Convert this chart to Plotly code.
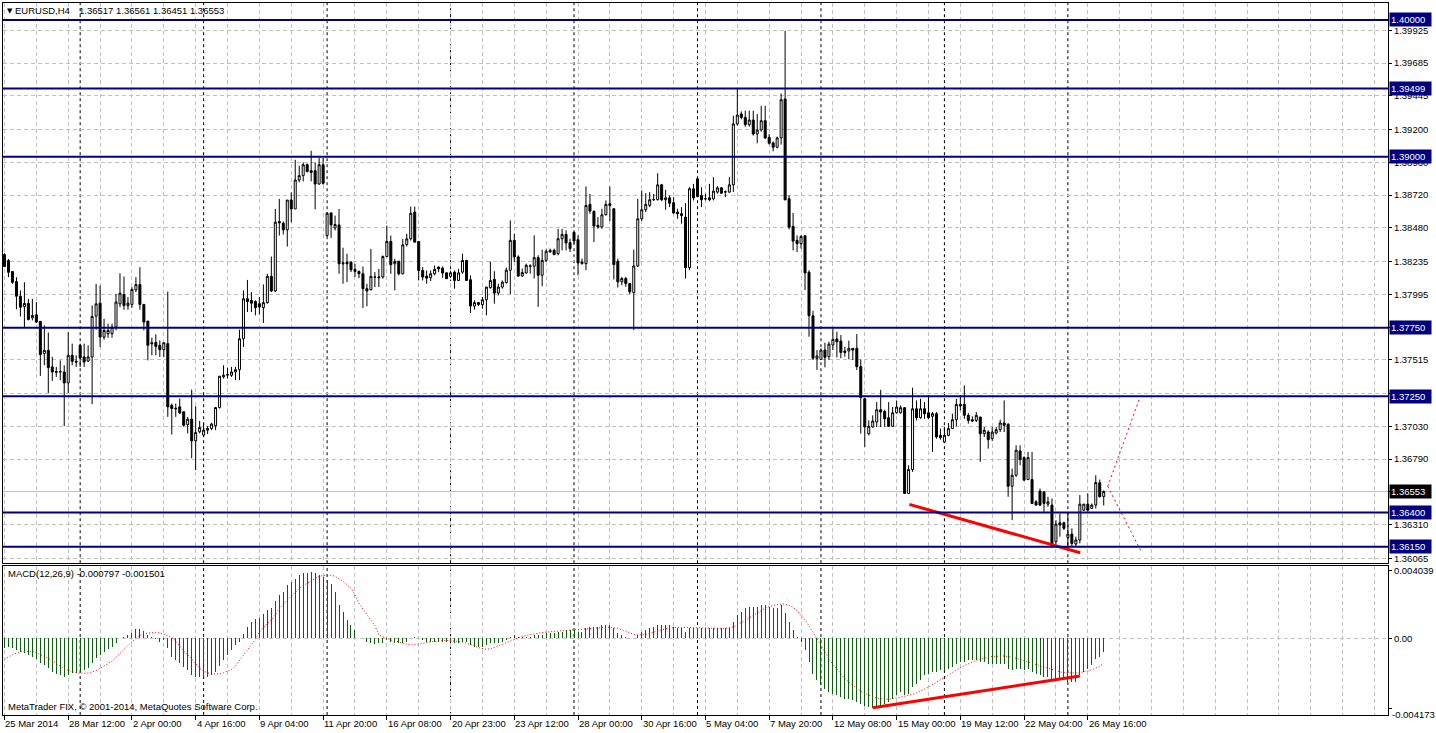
import plotly.graph_objects as go

# ---------------- DATA ----------------
opens = [
1.38285,1.38241,1.38161,1.38088,1.37981,1.37904,1.37928,1.37823,1.37845,1.37797,
1.37561,1.37585,1.37464,1.37430,1.37427,1.37427,1.37347,1.37549,1.37505,1.37622,
1.37537,1.37507,1.37537,1.37835,1.37930,1.37682,1.37707,1.37707,1.37755,1.37925,
1.37993,1.37911,1.37921,1.38027,1.38066,1.37921,1.37799,1.37641,1.37643,1.37622,
1.37590,1.37634,1.37184,1.37162,1.37172,1.37136,1.37043,1.37082,1.36924,1.36990,
1.36966,1.37002,1.37014,1.37034,1.37167,1.37391,1.37408,1.37403,1.37427,1.37444,
1.37670,1.37962,1.37950,1.37943,1.37926,1.37897,1.37934,1.38126,1.38019,1.38527,
1.38514,1.38466,1.38684,1.38619,1.38830,1.38862,1.38942,1.38898,1.38898,1.38801,
1.38942,1.38424,1.38590,1.38480,1.38502,1.38225,1.38230,1.38230,1.38177,1.38162,
1.38145,1.38036,1.38028,1.38121,1.38116,1.38121,1.38271,1.38381,1.38218,1.38237,
1.38145,1.38359,1.38400,1.38595,1.38381,1.38169,1.38128,1.38116,1.38145,1.38194,
1.38186,1.38152,1.38126,1.38157,1.38096,1.38157,1.38242,1.38101,1.37909,1.37934,
1.37919,1.37955,1.38043,1.38104,1.38004,1.38048,1.38081,1.38171,1.38389,1.38268,
1.38129,1.38151,1.38200,1.38200,1.38263,1.38134,1.38243,1.38304,1.38316,1.38292,
1.38401,1.38433,1.38372,1.38448,1.38394,1.38219,1.38219,1.38652,1.38601,1.38499,
1.38487,1.38576,1.38657,1.38620,1.38236,1.38086,1.38110,1.38073,1.38008,1.38202,
1.38547,1.38613,1.38645,1.38686,1.38686,1.38795,1.38686,1.38700,1.38664,1.38596,
1.38584,1.38559,1.38190,1.38766,1.38839,1.38717,1.38693,1.38700,1.38693,1.38742,
1.38773,1.38742,1.38742,1.38795,1.39240,1.39313,1.39288,1.39235,1.39269,1.39167,
1.39196,1.39264,1.39142,1.39101,1.39070,1.39138,1.39422,1.38693,1.38491,1.38389,
1.38365,1.38423,1.38156,1.37838,1.37527,1.37519,1.37587,1.37539,1.37624,1.37668,
1.37653,1.37580,1.37580,1.37600,1.37600,1.37466,1.37231,1.36976,1.37025,1.37061,
1.37151,1.37139,1.37093,1.37030,1.37129,1.37129,1.37166,1.36539,1.36714,1.37158,
1.37093,1.37158,1.37129,1.37103,1.37122,1.36964,1.36915,1.36964,1.37013,1.37078,
1.37190,1.37190,1.37110,1.37078,1.37073,1.37098,1.36976,1.36988,1.36940,1.36981,
1.37005,1.37054,1.37044,1.36592,1.36672,1.36850,1.36801,1.36641,1.36641,1.36478,
1.36556,1.36551,1.36461,1.36454,1.36187,1.36325,1.36325,1.36218,1.36242,1.36169,
1.36199,1.36417,1.36461,1.36429,1.36454,1.36617,1.36517]
highs = [
1.38295,1.38253,1.38161,1.38120,1.38023,1.38083,1.37962,1.37962,1.37938,1.37797,
1.37768,1.37716,1.37537,1.37464,1.37512,1.37476,1.37719,1.37634,1.37549,1.37634,
1.37634,1.37622,1.37913,1.38071,1.38059,1.37816,1.37780,1.37780,1.37998,1.38149,
1.38125,1.37974,1.38047,1.38120,1.38193,1.37921,1.37799,1.37678,1.37702,1.37658,
1.37641,1.38015,1.37196,1.37196,1.37233,1.37136,1.37099,1.37298,1.37177,1.37070,
1.37051,1.37031,1.37056,1.37172,1.37396,1.37476,1.37457,1.37464,1.37464,1.37736,
1.38023,1.38100,1.38011,1.37951,1.37975,1.38067,1.38145,1.38271,1.38619,1.38692,
1.38527,1.38684,1.38740,1.38978,1.38935,1.38959,1.38952,1.39044,1.38959,1.38991,
1.38991,1.38595,1.38590,1.38570,1.38619,1.38335,1.38291,1.38237,1.38218,1.38169,
1.38198,1.38072,1.38327,1.38157,1.38181,1.38279,1.38497,1.38424,1.38254,1.38237,
1.38400,1.38437,1.38636,1.38636,1.38381,1.38194,1.38169,1.38169,1.38206,1.38198,
1.38198,1.38152,1.38164,1.38169,1.38181,1.38291,1.38247,1.38133,1.37951,1.37938,
1.37975,1.38048,1.38235,1.38164,1.38072,1.38096,1.38190,1.38535,1.38438,1.38280,
1.38183,1.38219,1.38214,1.38426,1.38280,1.38321,1.38324,1.38329,1.38329,1.38474,
1.38474,1.38462,1.38401,1.38450,1.38426,1.38256,1.38783,1.38729,1.38608,1.38559,
1.38620,1.38681,1.38783,1.38625,1.38256,1.38122,1.38122,1.38078,1.38321,1.38693,
1.38754,1.38734,1.38742,1.38729,1.38880,1.38802,1.38759,1.38717,1.38705,1.38620,
1.38632,1.38661,1.38778,1.38802,1.38851,1.38778,1.38729,1.38802,1.38851,1.38785,
1.38778,1.38754,1.38851,1.39300,1.39495,1.39332,1.39337,1.39337,1.39337,1.39313,
1.39373,1.39373,1.39167,1.39113,1.39147,1.39463,1.39920,1.38717,1.38589,1.38426,
1.38426,1.38423,1.38171,1.37874,1.37587,1.37600,1.37641,1.37648,1.37745,1.37721,
1.37697,1.37612,1.37656,1.37600,1.37704,1.37519,1.37236,1.37073,1.37110,1.37207,
1.37297,1.37151,1.37207,1.37171,1.37219,1.37183,1.37171,1.36745,1.37312,1.37219,
1.37231,1.37207,1.37256,1.37134,1.37134,1.37013,1.37025,1.37054,1.37122,1.37231,
1.37256,1.37329,1.37127,1.37103,1.37134,1.37098,1.37025,1.37001,1.37025,1.37025,
1.37078,1.37219,1.37054,1.36721,1.36891,1.36891,1.36811,1.36843,1.36843,1.36490,
1.36575,1.36551,1.36515,1.36502,1.36344,1.36393,1.36332,1.36405,1.36284,1.36223,
1.36527,1.36461,1.36539,1.36466,1.36672,1.36641,1.36561]
lows = [
1.38193,1.38120,1.38071,1.37886,1.37833,1.37750,1.37804,1.37804,1.37785,1.37398,
1.37476,1.37274,1.37362,1.37391,1.37367,1.37031,1.37274,1.37476,1.37464,1.37464,
1.37464,1.37500,1.37192,1.37736,1.37610,1.37663,1.37677,1.37677,1.37731,1.37901,
1.37882,1.37882,1.37896,1.38011,1.37882,1.37731,1.37512,1.37549,1.37549,1.37537,
1.37537,1.37099,1.36970,1.37099,1.37119,1.37026,1.36978,1.36796,1.36710,1.36978,
1.36953,1.36973,1.37002,1.37002,1.37160,1.37379,1.37379,1.37391,1.37367,1.37367,
1.37610,1.37865,1.37865,1.37841,1.37848,1.37785,1.37926,1.38011,1.38011,1.38424,
1.38432,1.38344,1.38522,1.38619,1.38813,1.38820,1.38886,1.38820,1.38616,1.38796,
1.38796,1.38417,1.38407,1.38461,1.38145,1.38072,1.38084,1.38157,1.38121,1.38113,
1.37895,1.37907,1.38023,1.38048,1.38048,1.38109,1.38266,1.38145,1.38023,1.38133,
1.38140,1.38344,1.38388,1.38376,1.38096,1.38096,1.38072,1.38092,1.38133,1.38157,
1.38116,1.38109,1.38116,1.38036,1.38092,1.38145,1.38096,1.37858,1.37883,1.37909,
1.37890,1.37841,1.38036,1.37926,1.37987,1.38036,1.38073,1.37996,1.38231,1.38122,
1.38122,1.38146,1.38146,1.38110,1.37903,1.38054,1.38231,1.38299,1.38280,1.38280,
1.38316,1.38316,1.38304,1.38365,1.38134,1.38212,1.38171,1.38584,1.38377,1.38474,
1.38474,1.38571,1.38530,1.38103,1.38044,1.38061,1.38049,1.37996,1.37733,1.38195,
1.38530,1.38596,1.38632,1.38676,1.38681,1.38676,1.38613,1.38632,1.38584,1.38547,
1.38511,1.38110,1.38171,1.38681,1.38705,1.38632,1.38681,1.38676,1.38681,1.38730,
1.38730,1.38705,1.38737,1.38742,1.39228,1.39274,1.39220,1.39220,1.39155,1.39099,
1.39184,1.39130,1.39089,1.39040,1.39062,1.39089,1.38681,1.38469,1.38316,1.38304,
1.38329,1.38025,1.37685,1.37515,1.37442,1.37515,1.37461,1.37515,1.37587,1.37534,
1.37527,1.37539,1.37519,1.37515,1.37442,1.36976,1.36879,1.36964,1.37020,1.37025,
1.37025,1.37025,1.37025,1.37025,1.37122,1.37122,1.36539,1.36534,1.36697,1.37073,
1.37085,1.37085,1.37085,1.36843,1.36940,1.36932,1.36908,1.36957,1.37013,1.37030,
1.37146,1.37085,1.37049,1.37061,1.37061,1.36770,1.36952,1.36867,1.36923,1.36971,
1.36988,1.36988,1.36515,1.36344,1.36660,1.36745,1.36636,1.36636,1.36461,1.36451,
1.36447,1.36405,1.36442,1.36143,1.36150,1.36223,1.36272,1.36138,1.36150,1.36150,
1.36174,1.36412,1.36405,1.36429,1.36429,1.36510,1.36451]
closes = [
1.38198,1.38156,1.38083,1.37981,1.37901,1.37928,1.37811,1.37840,1.37792,1.37554,
1.37585,1.37459,1.37427,1.37425,1.37430,1.37347,1.37549,1.37505,1.37500,1.37530,
1.37500,1.37537,1.37833,1.37925,1.37682,1.37731,1.37731,1.37755,1.37938,1.38003,
1.37913,1.37930,1.38030,1.38066,1.37921,1.37792,1.37622,1.37634,1.37614,1.37590,
1.37641,1.37172,1.37160,1.37158,1.37128,1.37038,1.37082,1.36924,1.36985,1.37021,
1.37002,1.37014,1.37046,1.37167,1.37396,1.37403,1.37405,1.37427,1.37444,1.37670,
1.37962,1.37942,1.37930,1.37897,1.37902,1.37934,1.38126,1.38019,1.38522,1.38517,
1.38466,1.38684,1.38619,1.38830,1.38862,1.38942,1.38893,1.38886,1.38801,1.38942,
1.38806,1.38587,1.38502,1.38505,1.38218,1.38218,1.38218,1.38174,1.38162,1.38145,
1.38036,1.38019,1.38126,1.38121,1.38121,1.38271,1.38381,1.38211,1.38235,1.38145,
1.38356,1.38400,1.38587,1.38376,1.38169,1.38121,1.38113,1.38145,1.38177,1.38181,
1.38150,1.38109,1.38152,1.38096,1.38152,1.38242,1.38096,1.37909,1.37934,1.37921,
1.37955,1.38048,1.38096,1.38004,1.38048,1.38084,1.38171,1.38389,1.38268,1.38129,
1.38154,1.38207,1.38202,1.38263,1.38134,1.38243,1.38309,1.38316,1.38285,1.38401,
1.38433,1.38370,1.38329,1.38384,1.38224,1.38231,1.38644,1.38603,1.38494,1.38487,
1.38576,1.38652,1.38644,1.38212,1.38086,1.38110,1.38073,1.38013,1.38202,1.38547,
1.38613,1.38652,1.38686,1.38688,1.38795,1.38686,1.38700,1.38661,1.38589,1.38584,
1.38571,1.38190,1.38766,1.38700,1.38710,1.38686,1.38693,1.38686,1.38749,1.38773,
1.38734,1.38744,1.38795,1.39240,1.39305,1.39288,1.39235,1.39269,1.39167,1.39196,
1.39264,1.39138,1.39099,1.39070,1.39138,1.39417,1.38686,1.38486,1.38384,1.38365,
1.38418,1.38151,1.37838,1.37527,1.37544,1.37587,1.37534,1.37631,1.37665,1.37648,
1.37570,1.37570,1.37600,1.37587,1.37466,1.37240,1.37025,1.37030,1.37069,1.37151,
1.37134,1.37085,1.37030,1.37129,1.37171,1.37166,1.36539,1.36714,1.37158,1.37093,
1.37158,1.37122,1.37093,1.37122,1.36952,1.36947,1.36964,1.37013,1.37078,1.37190,
1.37178,1.37110,1.37073,1.37069,1.37110,1.36976,1.37001,1.36932,1.36988,1.37005,
1.37054,1.37037,1.36592,1.36672,1.36855,1.36787,1.36636,1.36801,1.36466,1.36454,
1.36454,1.36466,1.36478,1.36150,1.36315,1.36308,1.36284,1.36242,1.36174,1.36199,
1.36461,1.36461,1.36417,1.36454,1.36619,1.36515,1.36553]

macd_hist = [
-0.00060,-0.00054,-0.00060,-0.00069,-0.00079,-0.00085,-0.00099,-0.00109,-0.00121,-0.00145,
-0.00161,-0.00179,-0.00198,-0.00212,-0.00218,-0.00228,-0.00218,-0.00208,-0.00204,-0.00198,
-0.00188,-0.00179,-0.00149,-0.00119,-0.00099,-0.00079,-0.00065,-0.00050,-0.00026,-0.00004,
0.00010,0.00020,0.00034,0.00056,0.00056,0.00044,0.00020,0.00006,-0.00006,-0.00020,
-0.00010,-0.00060,-0.00109,-0.00129,-0.00149,-0.00169,-0.00188,-0.00218,-0.00228,-0.00228,
-0.00228,-0.00228,-0.00218,-0.00198,-0.00165,-0.00129,-0.00099,-0.00069,-0.00040,-0.00020,
0.00026,0.00069,0.00099,0.00113,0.00119,0.00145,0.00169,0.00179,0.00224,0.00258,
0.00278,0.00317,0.00337,0.00357,0.00377,0.00391,0.00391,0.00397,0.00387,0.00377,
0.00367,0.00347,0.00327,0.00278,0.00198,0.00159,0.00109,0.00079,0.00050,0.00000,
0.00000,-0.00020,-0.00030,-0.00034,-0.00030,-0.00030,-0.00010,-0.00020,-0.00026,-0.00030,
-0.00030,-0.00020,0.00000,0.00010,0.00000,-0.00010,-0.00020,-0.00020,-0.00020,-0.00020,
-0.00020,-0.00020,-0.00020,-0.00030,-0.00030,-0.00020,-0.00020,-0.00040,-0.00050,-0.00050,
-0.00050,-0.00040,-0.00030,-0.00030,-0.00030,-0.00020,-0.00010,0.00010,0.00020,0.00010,
0.00010,0.00010,0.00010,0.00020,0.00020,0.00020,0.00030,0.00030,0.00030,0.00040,
0.00040,0.00050,0.00050,0.00050,0.00040,0.00040,0.00060,0.00070,0.00070,0.00070,
0.00080,0.00080,0.00080,0.00060,0.00030,0.00020,0.00010,0.00000,0.00000,0.00020,
0.00040,0.00050,0.00060,0.00070,0.00080,0.00080,0.00080,0.00080,0.00070,0.00060,
0.00060,0.00040,0.00060,0.00060,0.00060,0.00060,0.00060,0.00060,0.00060,0.00060,
0.00060,0.00060,0.00060,0.00100,0.00140,0.00160,0.00180,0.00190,0.00190,0.00190,
0.00200,0.00200,0.00190,0.00180,0.00180,0.00200,0.00150,0.00100,0.00050,0.00010,
-0.00020,-0.00070,-0.00140,-0.00210,-0.00250,-0.00280,-0.00300,-0.00320,-0.00330,-0.00340,
-0.00350,-0.00360,-0.00360,-0.00370,-0.00380,-0.00390,-0.00400,-0.00410,-0.00417,-0.00410,
-0.00400,-0.00390,-0.00380,-0.00360,-0.00340,-0.00320,-0.00340,-0.00330,-0.00290,-0.00270,
-0.00250,-0.00220,-0.00210,-0.00200,-0.00200,-0.00190,-0.00190,-0.00180,-0.00170,-0.00150,
-0.00140,-0.00140,-0.00130,-0.00130,-0.00130,-0.00140,-0.00140,-0.00150,-0.00150,-0.00150,
-0.00150,-0.00150,-0.00180,-0.00190,-0.00180,-0.00180,-0.00190,-0.00180,-0.00200,-0.00210,
-0.00220,-0.00230,-0.00230,-0.00250,-0.00250,-0.00250,-0.00250,-0.00260,-0.00260,-0.00260,
-0.00220,-0.00200,-0.00180,-0.00160,-0.00120,-0.00110,-0.000797]
macd_signal = [
-0.00125,-0.00110,-0.00098,-0.00088,-0.00080,-0.00078,-0.00077,-0.00078,-0.00085,-0.00095,
-0.00108,-0.00120,-0.00130,-0.00150,-0.00167,-0.00180,-0.00190,-0.00198,-0.00205,-0.00208,
-0.00208,-0.00206,-0.00200,-0.00192,-0.00178,-0.00165,-0.00150,-0.00135,-0.00112,-0.00088,
-0.00065,-0.00040,-0.00020,0.00000,0.00018,0.00028,0.00033,0.00034,0.00034,0.00033,
0.00025,0.00015,0.00005,-0.00015,-0.00048,-0.00075,-0.00098,-0.00120,-0.00150,-0.00178,
-0.00195,-0.00205,-0.00210,-0.00212,-0.00212,-0.00205,-0.00195,-0.00185,-0.00165,-0.00130,
-0.00100,-0.00070,-0.00040,-0.00005,0.00038,0.00065,0.00090,0.00110,0.00140,0.00178,
0.00205,0.00228,0.00250,0.00275,0.00298,0.00315,0.00330,0.00343,0.00358,0.00370,
0.00375,0.00377,0.00377,0.00370,0.00357,0.00340,0.00320,0.00298,0.00260,0.00210,
0.00175,0.00140,0.00108,0.00075,0.00020,0.00010,0.00000,-0.00010,-0.00015,-0.00020,
-0.00030,-0.00035,-0.00038,-0.00038,-0.00035,-0.00030,-0.00025,-0.00020,-0.00018,-0.00015,
-0.00012,-0.00012,-0.00013,-0.00015,-0.00018,-0.00022,-0.00028,-0.00035,-0.00045,-0.00055,
-0.00062,-0.00065,-0.00062,-0.00055,-0.00045,-0.00035,-0.00025,-0.00015,-0.00005,0.00005,
0.00012,0.00018,0.00023,0.00028,0.00032,0.00035,0.00038,0.00040,0.00043,0.00045,
0.00048,0.00050,0.00052,0.00054,0.00055,0.00056,0.00057,0.00058,0.00060,0.00062,
0.00064,0.00066,0.00067,0.00065,0.00060,0.00052,0.00042,0.00032,0.00025,0.00020,
0.00020,0.00024,0.00030,0.00038,0.00045,0.00052,0.00058,0.00062,0.00065,0.00066,
0.00066,0.00065,0.00064,0.00063,0.00062,0.00062,0.00061,0.00060,0.00060,0.00060,
0.00060,0.00060,0.00062,0.00068,0.00080,0.00095,0.00110,0.00125,0.00140,0.00155,
0.00168,0.00180,0.00190,0.00197,0.00202,0.00205,0.00205,0.00198,0.00185,0.00165,
0.00140,0.00110,0.00075,0.00035,-0.00005,-0.00045,-0.00085,-0.00120,-0.00155,-0.00185,
-0.00212,-0.00238,-0.00260,-0.00280,-0.00298,-0.00315,-0.00328,-0.00340,-0.00348,-0.00355,
-0.00360,-0.00362,-0.00362,-0.00360,-0.00355,-0.00350,-0.00345,-0.00340,-0.00333,-0.00325,
-0.00315,-0.00302,-0.00290,-0.00275,-0.00260,-0.00245,-0.00230,-0.00215,-0.00200,-0.00188,
-0.00175,-0.00162,-0.00150,-0.00140,-0.00130,-0.00122,-0.00116,-0.00112,-0.00108,-0.00106,
-0.00105,-0.00105,-0.00108,-0.00112,-0.00118,-0.00125,-0.00133,-0.00140,-0.00148,-0.00156,
-0.00164,-0.00172,-0.00180,-0.00188,-0.00195,-0.00200,-0.00203,-0.00205,-0.00206,-0.00206,
-0.00204,-0.00200,-0.00195,-0.00188,-0.00178,-0.00165,-0.001501]

x_label_bars = [0, 16, 32, 48, 64, 80, 96, 112, 128, 144, 160, 176, 192, 208, 224, 240, 256, 272]
x_labels = ["25 Mar 2014", "28 Mar 12:00", "2 Apr 00:00", "4 Apr 16:00", "9 Apr 04:00",
            "11 Apr 20:00", "16 Apr 08:00", "20 Apr 23:00", "23 Apr 12:00", "28 Apr 00:00",
            "30 Apr 16:00", "5 May 04:00", "7 May 20:00", "12 May 08:00", "15 May 00:00",
            "19 May 12:00", "22 May 04:00", "26 May 16:00"]
price_ticks = [1.39925, 1.39685, 1.39445, 1.39200, 1.38960, 1.38720, 1.38480, 1.38235, 1.37995,
               1.37755, 1.37515, 1.37270, 1.37030, 1.36790, 1.36550, 1.36310, 1.36065]
price_tick_labels = ["1.39925", "1.39685", "1.39445", "1.39200", "1.38960", "1.38720", "1.38480",
                     "1.38235", "1.37995", "1.37755", "1.37515", "1.37270", "1.37030", "1.36790",
                     "1.36550", "1.36310", "1.36065"]
level_prices = [1.40000, 1.39499, 1.39000, 1.37750, 1.37250, 1.36400, 1.36150]
level_labels = ["1.40000", "1.39499", "1.39000", "1.37750", "1.37250", "1.36400", "1.36150"]
last_price = 1.36553
last_price_label = "1.36553"
week_sep_bars = [19, 50, 81, 112, 143, 174, 205, 236, 267]
trend_bars = [227.2, 270.1]
trend_prices = [1.36459, 1.36106]
macd_trend_bars = [218, 270]
macd_trend_vals = [-0.00413, -0.00224]
fan_up_bars = [277, 285]
fan_up_prices = [1.36591, 1.37234]
fan_dn_bars = [277, 285.5]
fan_dn_prices = [1.36591, 1.36109]
macd_ticks = [0.004039, 0.0, -0.004173]
header_symbol = "EURUSD,H4"
header_ohlc = "1.36517 1.36561 1.36451 1.36553"
macd_title = "MACD(12,26,9) -0.000797 -0.001501"
copyright_text = "MetaTrader FIX, © 2001-2014, MetaQuotes Software Corp."

# ---------------- LAYOUT GEOMETRY ----------------
W, H = 1436, 733
ML, MR, MT, MB = 2, 43, 2, 18
PLOT_TOP, PLOT_BOT = MT, H - MB          # 2 .. 715
PH = PLOT_BOT - PLOT_TOP


def py(px):
    return (PLOT_BOT - px) / PH


def pxx(px):
    return (px - ML) / (W - ML - MR)


MAIN_DOM = [py(563), 1.0]
MACD_DOM = [0.0, py(566)]
FONT = "Liberation Sans, Arial, sans-serif"
FS = 9.5
GRID = "#C0C0C0"
NAVY = "#000080"
X_RANGE = [-0.375, 347.375]   # 4 px per bar, bar centres on half pixels (crisp 1px lines)

bars = list(range(len(opens)))

fig = go.Figure()
fig.add_trace(go.Candlestick(
    x=bars, open=opens, high=highs, low=lows, close=closes,
    increasing=dict(line=dict(color="black", width=1), fillcolor="white"),
    decreasing=dict(line=dict(color="black", width=1), fillcolor="black"),
    whiskerwidth=0, xaxis="x", yaxis="y", hoverinfo="skip"))
fig.add_trace(go.Scatter(x=trend_bars, y=trend_prices, mode="lines",
                         line=dict(color="#FF0000", width=3), xaxis="x", yaxis="y"))
fig.add_trace(go.Scatter(x=fan_up_bars, y=fan_up_prices, mode="lines",
                         line=dict(color="#FF0000", width=1, dash="2px,3px"), xaxis="x", yaxis="y"))
fig.add_trace(go.Scatter(x=fan_dn_bars, y=fan_dn_prices, mode="lines",
                         line=dict(color="#FF0000", width=1, dash="2px,3px"), xaxis="x", yaxis="y"))
fig.add_trace(go.Bar(x=bars, y=macd_hist, width=0.25, marker=dict(color="#0A5F0A", line=dict(width=0)),
                     xaxis="x2", yaxis="y2"))
fig.add_trace(go.Scatter(x=bars, y=macd_signal, mode="lines",
                         line=dict(color="#FF0000", width=1, dash="1px,2px"), xaxis="x2", yaxis="y2"))
fig.add_trace(go.Scatter(x=macd_trend_bars, y=macd_trend_vals, mode="lines",
                         line=dict(color="#FF0000", width=3), xaxis="x2", yaxis="y2"))

shapes = []
for b in week_sep_bars:
    for dom in (MAIN_DOM, MACD_DOM):
        shapes.append(dict(type="line", xref="x", yref="paper", x0=b, x1=b, y0=dom[0], y1=dom[1],
                           line=dict(color="black", width=1, dash="3px,3px"), layer="below"))
shapes.append(dict(type="line", xref="paper", yref="y2", x0=0, x1=1, y0=0, y1=0,
                   line=dict(color=GRID, width=1, dash="4px,3px"), layer="below"))
shapes.append(dict(type="line", xref="paper", yref="y", x0=0, x1=1, y0=last_price, y1=last_price,
                   line=dict(color="#C0C0C0", width=1), layer="below"))
for lp in level_prices:
    shapes.append(dict(type="line", xref="paper", yref="y", x0=0, x1=1, y0=lp, y1=lp,
                       line=dict(color=NAVY, width=2), layer="above"))

ann = []
for b, t in zip(x_label_bars, x_labels):
    ann.append(dict(x=b, xref="x", y=py(724), yref="paper", text=t, showarrow=False,
                    xanchor="left", yanchor="middle", xshift=-1,
                    font=dict(family=FONT, size=FS, color="black")))
for lp, t in zip(level_prices, level_labels):
    ann.append(dict(x=1, xref="paper", y=lp, yref="y", text=t, showarrow=False,
                    xanchor="left", yanchor="middle", xshift=1, bgcolor=NAVY, borderpad=1,
                    width=39, align="left", font=dict(family=FONT, size=FS, color="white")))
ann.append(dict(x=1, xref="paper", y=last_price, yref="y", text=last_price_label, showarrow=False,
                xanchor="left", yanchor="middle", xshift=1, bgcolor="black", borderpad=1,
                width=39, align="left", font=dict(family=FONT, size=FS, color="white")))
ann.append(dict(x=1, xref="paper", y=py(714), yref="paper", text="-0.004173", showarrow=False,
                xanchor="left", yanchor="middle", xshift=2,
                font=dict(family=FONT, size=FS, color="black")))
ann.append(dict(x=pxx(4), xref="paper", y=py(10), yref="paper", text="▼", showarrow=False,
                xanchor="left", yanchor="middle", font=dict(family="DejaVu Sans", size=7, color="black")))
ann.append(dict(x=pxx(12), xref="paper", y=py(10), yref="paper", text=header_symbol, showarrow=False,
                xanchor="left", yanchor="middle", font=dict(family=FONT, size=FS, color="black")))
ann.append(dict(x=pxx(76), xref="paper", y=py(10), yref="paper", text=header_ohlc, showarrow=False,
                xanchor="left", yanchor="middle", font=dict(family=FONT, size=FS, color="black")))
ann.append(dict(x=pxx(5), xref="paper", y=py(573), yref="paper", text=macd_title, showarrow=False,
                xanchor="left", yanchor="middle", font=dict(family=FONT, size=FS, color="black")))
ann.append(dict(x=pxx(5), xref="paper", y=py(706), yref="paper", text=copyright_text, showarrow=False,
                xanchor="left", yanchor="middle", font=dict(family=FONT, size=FS, color="black")))

xcommon = dict(range=X_RANGE, showline=True, linecolor="black", linewidth=1, mirror=True,
               zeroline=False, tickmode="array", tickvals=x_label_bars, showticklabels=False,
               showgrid=True, gridcolor=GRID, griddash="4px,3px", gridwidth=1,
               minor=dict(tickmode="linear", tick0=0, dtick=8, showgrid=True, gridcolor=GRID,
                          griddash="4px,3px", gridwidth=1, ticks=""))

fig.update_layout(
    width=W, height=H, margin=dict(l=ML, r=MR, t=MT, b=MB),
    paper_bgcolor="white", plot_bgcolor="white", showlegend=False,
    boxgap=0.5, boxgroupgap=0, bargap=0,
    font=dict(family=FONT, size=FS, color="black"),
    xaxis=dict(anchor="y", domain=[0, 1], ticks="", rangeslider=dict(visible=False), **xcommon),
    xaxis2=dict(anchor="y2", domain=[0, 1], matches="x", ticks="outside", ticklen=4,
                tickcolor="black", **xcommon),
    yaxis=dict(domain=MAIN_DOM, range=[1.360292, 1.401241], side="right", anchor="x",
               tickmode="array", tickvals=price_ticks, ticktext=price_tick_labels,
               ticks="outside", ticklen=3, tickcolor="black",
               tickfont=dict(family=FONT, size=FS, color="black"),
               showgrid=True, gridcolor=GRID, griddash="4px,3px", gridwidth=1,
               showline=True, linecolor="black", linewidth=1, mirror=True, zeroline=False),
    yaxis2=dict(domain=MACD_DOM, range=[-0.004564, 0.004303], side="right", anchor="x2",
                tickmode="array", tickvals=macd_ticks, ticktext=["0.004039", "0.00", ""],
                ticks="outside", ticklen=3, tickcolor="black",
                tickfont=dict(family=FONT, size=FS, color="black"),
                showgrid=False, showline=True, linecolor="black", linewidth=1, mirror=True,
                zeroline=False),
    shapes=shapes, annotations=ann, hovermode=False,
)

fig.write_html("out.html", config={"displayModeBar": False, "staticPlot": True},
               post_script="document.body.style.margin='0px';document.body.style.overflow='hidden';")
